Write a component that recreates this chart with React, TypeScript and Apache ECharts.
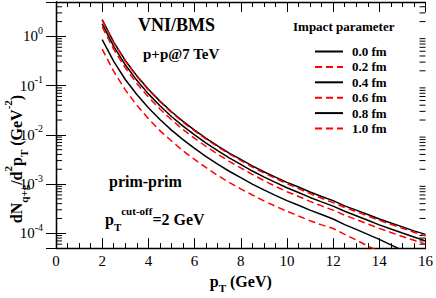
import React, { useEffect, useRef } from 'react';
import * as echarts from 'echarts';

const pT = [2, 2.5, 3, 3.5, 4, 4.5, 5, 5.5, 6, 6.5, 7, 7.5, 8, 8.5, 9, 9.5, 10, 10.5, 11, 11.5, 12, 12.5, 13, 13.5, 14, 14.5, 15, 15.5, 16];

const b00 = [2.19, 0.767, 0.325, 0.158, 0.0841, 0.0484, 0.0295, 0.0188, 0.0125, 0.00851, 0.00596, 0.00427, 0.00316, 0.00234, 0.00178, 0.00138, 0.00108, 8.7e-4, 6.9e-4, 5.6e-4, 4.6e-4, 3.6e-4, 2.95e-4, 2.4e-4, 1.95e-4, 1.62e-4, 1.35e-4, 1.12e-4, 9.5e-5];
const b02 = [2.14, 0.75, 0.316, 0.154, 0.0818, 0.047, 0.0285, 0.0181, 0.012, 0.0082, 0.00572, 0.0041, 0.00302, 0.00222, 0.00169, 0.00131, 0.00102, 8.1e-4, 6.4e-4, 5.15e-4, 4.2e-4, 3.35e-4, 2.75e-4, 2.25e-4, 1.83e-4, 1.52e-4, 1.26e-4, 1.05e-4, 8.9e-5];
const b04 = [1.8, 0.625, 0.265, 0.128, 0.068, 0.0389, 0.0236, 0.015, 0.01, 0.0068, 0.00476, 0.0034, 0.00251, 0.00184, 0.0014, 0.00108, 8.4e-4, 6.75e-4, 5.35e-4, 4.35e-4, 3.57e-4, 2.8e-4, 2.27e-4, 1.84e-4, 1.48e-4, 1.22e-4, 1.01e-4, 8.4e-5, 7.0e-5];
const b06 = [1.56, 0.545, 0.23, 0.111, 0.0585, 0.0335, 0.0203, 0.0128, 0.0085, 0.0058, 0.00405, 0.0029, 0.00213, 0.00157, 0.00118, 9.0e-4, 7.0e-4, 5.6e-4, 4.45e-4, 3.6e-4, 2.95e-4, 2.33e-4, 1.9e-4, 1.55e-4, 1.26e-4, 1.04e-4, 8.6e-5, 7.2e-5, 6.0e-5];
const b08 = [0.86, 0.31, 0.133, 0.066, 0.0355, 0.0205, 0.0125, 0.008, 0.0053, 0.00362, 0.00254, 0.00182, 0.00135, 0.001, 7.6e-4, 5.9e-4, 4.6e-4, 3.7e-4, 2.95e-4, 2.4e-4, 1.95e-4, 1.5e-4, 1.2e-4, 9.5e-5, 7.5e-5, 5.8e-5, 4.5e-5, 3.7e-5, 3.0e-5];
const b10 = [0.55, 0.194, 0.082, 0.04, 0.0213, 0.0122, 0.0075, 0.00475, 0.00316, 0.00215, 0.0015, 0.00108, 8.0e-4, 6.0e-4, 4.55e-4, 3.55e-4, 2.8e-4, 2.25e-4, 1.8e-4, 1.48e-4, 1.25e-4, 9.5e-5, 7.3e-5, 5.5e-5, 4.3e-5, 3.4e-5, 2.7e-5, 2.2e-5, 1.7e-5];

const seriesNames = ['0.0 fm', '0.2 fm', '0.4 fm', '0.6 fm', '0.8 fm', '1.0 fm'];
const seriesValues = [b00, b02, b04, b06, b08, b10];
const seriesDashed = [false, true, false, true, false, true];

const xMin = 0;
const xMax = 16;
const xInterval = 2;
const yMin = 5e-5;
const yMax = 5;
const yDecades = [-5, -4, -3, -2, -1, 0];
const yMinorMultipliers = [2, 3, 4, 5, 6, 7, 8, 9];

const SERIF = '"Liberation Serif", "Times New Roman", serif';

export default function App() {
  const ref = useRef<HTMLDivElement>(null);

  useEffect(() => {
    if (!ref.current) return;
    const chart = echarts.init(ref.current, undefined, { renderer: 'svg' });

    const minorVals: number[][] = [];
    yDecades.forEach((d) => {
      yMinorMultipliers.forEach((k) => {
        const v = k * Math.pow(10, d);
        if (v > yMin && v < yMax) minorVals.push([xMin, v]);
      });
    });

    const yLabel = (v: number) => {
      const l = Math.log10(v);
      const e = Math.round(l);
      if (Math.abs(l - e) > 1e-6) return '';
      return '{m|10}{s|' + e + '}';
    };

    const lineSeries = seriesNames.map((name, i) => ({
      name,
      type: 'line',
      data: pT.map((x, j) => [x, seriesValues[i][j]]),
      showSymbol: false,
      symbol: 'none',
      clip: true,
      lineStyle: {
        color: seriesDashed[i] ? '#ff0000' : '#000000',
        width: 1.5,
        type: seriesDashed[i] ? [7, 4] : 'solid',
      },
      itemStyle: { color: seriesDashed[i] ? '#ff0000' : '#000000' },
      z: 3,
    }));

    const axisLineStyle = { color: '#000', width: 1.3 };

    const txt = (text: string, x: number, y: number, size: number) => ({
      type: 'text',
      x,
      y,
      style: { text, font: 'bold ' + size + 'px ' + SERIF, fill: '#000', align: 'left', verticalAlign: 'middle' },
    });

    chart.setOption({
      animation: false,
      backgroundColor: '#fff',
      grid: { left: 56, right: 9, top: 2, bottom: 37, containLabel: false },
      xAxis: [
        {
          type: 'value',
          min: xMin,
          max: xMax,
          interval: xInterval,
          position: 'bottom',
          axisLine: { show: true, lineStyle: axisLineStyle },
          axisTick: { show: true, inside: true, length: 10, lineStyle: { color: '#000', width: 1 } },
          minorTick: { show: true, splitNumber: 4, length: 5, lineStyle: { color: '#000', width: 1 } },
          splitLine: { show: false },
          axisLabel: { color: '#000', fontFamily: SERIF, fontSize: 15, margin: 5 },
          name: '{m|p}{s|T}{m| (GeV)}',
          nameLocation: 'middle',
          nameGap: 18,
          nameTextStyle: {
            rich: {
              m: { fontFamily: SERIF, fontWeight: 'bold', fontSize: 16, color: '#000', lineHeight: 24 },
              s: { fontFamily: SERIF, fontWeight: 'bold', fontSize: 11, color: '#000', lineHeight: 11, verticalAlign: 'bottom' },
            },
          },
        },
        {
          type: 'value',
          min: xMin,
          max: xMax,
          interval: xInterval,
          position: 'top',
          axisLine: { show: true, lineStyle: axisLineStyle },
          axisTick: { show: true, inside: true, length: 10, lineStyle: { color: '#000', width: 1 } },
          minorTick: { show: true, splitNumber: 4, length: 5, lineStyle: { color: '#000', width: 1 } },
          splitLine: { show: false },
          axisLabel: { show: false },
        },
      ],
      yAxis: [
        {
          type: 'log',
          logBase: 10,
          min: yMin,
          max: yMax,
          position: 'left',
          axisLine: { show: true, lineStyle: axisLineStyle },
          axisTick: { show: true, inside: true, length: 10, lineStyle: { color: '#000', width: 1 } },
          splitLine: { show: false },
          axisLabel: {
            formatter: yLabel,
            margin: 13,
            showMinLabel: false,
            showMaxLabel: false,
            fontFamily: SERIF,
            fontSize: 15,
            color: '#000',
            rich: {
              m: { fontFamily: SERIF, fontSize: 15, color: '#000', lineHeight: 22 },
              s: { fontFamily: SERIF, fontSize: 10, color: '#000', lineHeight: 10, verticalAlign: 'top' },
            },
          },
        },
        {
          type: 'log',
          logBase: 10,
          min: yMin,
          max: yMax,
          position: 'right',
          axisLine: { show: true, lineStyle: axisLineStyle },
          axisTick: { show: true, inside: true, length: 10, lineStyle: { color: '#000', width: 1 } },
          splitLine: { show: false },
          axisLabel: { show: false },
        },
      ],
      legend: {
        orient: 'vertical',
        left: 309,
        top: 40,
        itemWidth: 28,
        itemHeight: 14,
        itemGap: 2.4,
        data: seriesNames,
        itemStyle: { opacity: 0 },
        textStyle: { fontFamily: SERIF, fontWeight: 'bold', fontSize: 13, color: '#000', padding: [0, 0, 0, 4] },
      },
      graphic: [
        txt('VNI/BMS', 138, 25, 18),
        txt('p+p@7 TeV', 143, 54, 15),
        txt('Impact parameter', 293, 26, 13),
        txt('prim-prim', 109, 181, 16),
        {
          type: 'text',
          x: 105,
          y: 219,
          style: {
            text: '{m|p}{b|T}{t|cut-off}{m|=2 GeV}',
            verticalAlign: 'middle',
            align: 'left',
            rich: {
              m: { fontFamily: SERIF, fontWeight: 'bold', fontSize: 16, fill: '#000', lineHeight: 27 },
              b: { fontFamily: SERIF, fontWeight: 'bold', fontSize: 11, fill: '#000', lineHeight: 11, verticalAlign: 'bottom' },
              t: { fontFamily: SERIF, fontWeight: 'bold', fontSize: 11, fill: '#000', lineHeight: 11, verticalAlign: 'top' },
            },
          },
        },
        {
          type: 'text',
          x: 16,
          y: 159,
          rotation: Math.PI / 2,
          style: {
            text: '{m|dN}{b|q+g}{m|/d}{t|2}{m|p}{b|T}{m| (GeV}{t|-2}{m|)}',
            align: 'center',
            verticalAlign: 'middle',
            rich: {
              m: { fontFamily: SERIF, fontWeight: 'bold', fontSize: 16, fill: '#000', lineHeight: 27 },
              b: { fontFamily: SERIF, fontWeight: 'bold', fontSize: 11, fill: '#000', lineHeight: 11, verticalAlign: 'bottom' },
              t: { fontFamily: SERIF, fontWeight: 'bold', fontSize: 11, fill: '#000', lineHeight: 11, verticalAlign: 'top' },
            },
          },
        },
      ],
      series: [
        ...lineSeries,
        {
          name: 'minorY',
          type: 'custom',
          silent: true,
          clip: false,
          xAxisIndex: 0,
          yAxisIndex: 0,
          encode: { x: 0, y: 1 },
          data: minorVals,
          renderItem: (params: any, api: any) => {
            const v = api.value(1);
            const pl = api.coord([xMin, v]);
            const pr = api.coord([xMax, v]);
            return {
              type: 'group',
              children: [
                { type: 'line', shape: { x1: pl[0], y1: pl[1], x2: pl[0] + 6, y2: pl[1] }, style: { stroke: '#000', lineWidth: 1 } },
                { type: 'line', shape: { x1: pr[0] - 6, y1: pr[1], x2: pr[0], y2: pr[1] }, style: { stroke: '#000', lineWidth: 1 } },
              ],
            };
          },
          z: 2,
        },
      ],
    });

    return () => chart.dispose();
  }, []);

  return <div ref={ref} style={{ position: 'fixed', left: 0, top: 0, width: 436, height: 298 }} />;
}
